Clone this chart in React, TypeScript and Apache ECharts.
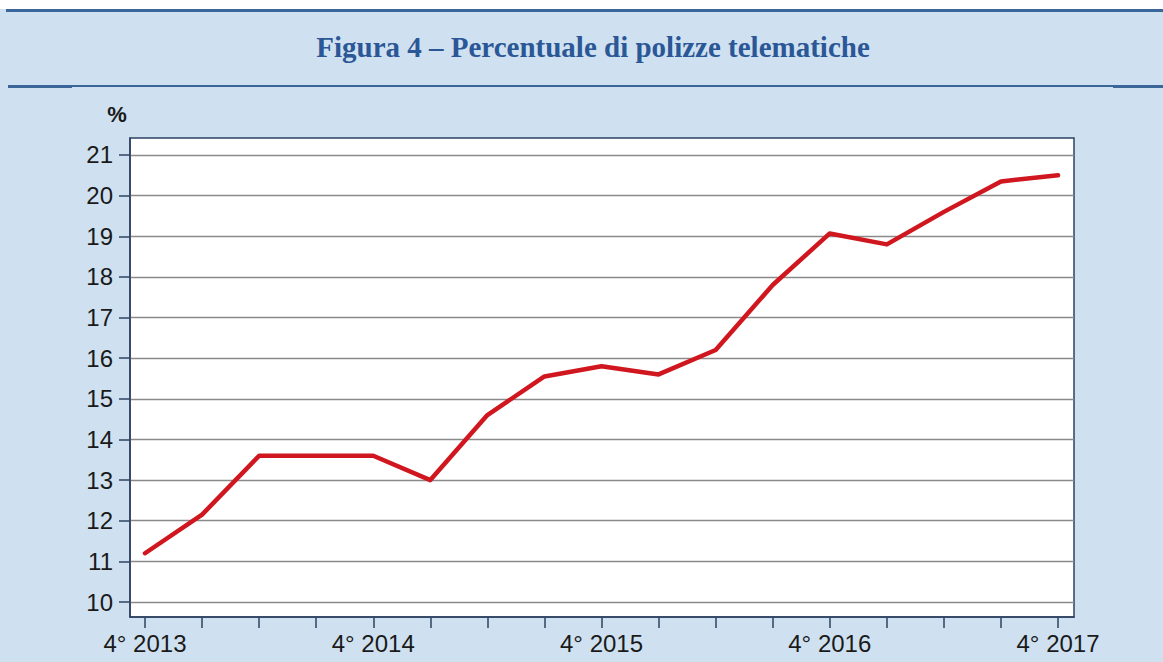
import React, { useEffect, useRef } from "react";
import * as echarts from "echarts";

const quarters = [
  "4° 2013", "1° 2014", "2° 2014", "3° 2014", "4° 2014",
  "1° 2015", "2° 2015", "3° 2015", "4° 2015",
  "1° 2016", "2° 2016", "3° 2016", "4° 2016",
  "1° 2017", "2° 2017", "3° 2017", "4° 2017",
];
const values = [11.2, 12.15, 13.6, 13.6, 13.6, 13.0, 14.6, 15.55, 15.8, 15.6, 16.2, 17.8, 19.07, 18.8, 19.6, 20.35, 20.5];
const yTicks = [10, 11, 12, 13, 14, 15, 16, 17, 18, 19, 20, 21];
const xLabelIdx = [0, 4, 8, 12, 16];
const titleText = "Figura 4 – Percentuale di polizze telematiche";

const BG = "#cfe1f0";
const RULE = "#3a6699";
const FRAME = "#2d4262";
const TXT = "#1a1a1a";

export default function App() {
  const ref = useRef<HTMLDivElement>(null);
  useEffect(() => {
    if (!ref.current) return;
    const chart = echarts.init(ref.current, null, { renderer: "svg" });
    const xIdx = quarters.map((_, i) => i);
    chart.setOption({
      animation: false,
      backgroundColor: BG,
      graphic: [
        { type: "rect", shape: { x: 0, y: 0, width: 1163, height: 9 }, style: { fill: "#ffffff" } },
        { type: "rect", shape: { x: 6, y: 9, width: 1157, height: 3 }, style: { fill: RULE } },
        { type: "rect", shape: { x: 72, y: 85, width: 1041, height: 2 }, style: { fill: RULE } },
        { type: "rect", shape: { x: 8, y: 85, width: 64, height: 3 }, style: { fill: RULE } },
        { type: "rect", shape: { x: 1113, y: 85, width: 50, height: 3 }, style: { fill: RULE } },
        {
          type: "text",
          x: 593,
          y: 47,
          style: {
            text: titleText,
            fill: "#2b5797",
            font: "bold 29px 'Liberation Serif', serif",
            textAlign: "center",
            textVerticalAlign: "middle",
          },
        },
        {
          type: "text",
          x: 117,
          y: 114,
          style: {
            text: "%",
            fill: TXT,
            font: "bold 22px 'Liberation Sans', Arial, sans-serif",
            textAlign: "center",
            textVerticalAlign: "middle",
          },
        },
      ],
      grid: {
        left: 130,
        right: 89,
        top: 138,
        bottom: 45,
        show: true,
        backgroundColor: "#ffffff",
        borderColor: FRAME,
        borderWidth: 1.5,
      },
      xAxis: {
        type: "value",
        min: -0.263,
        max: 16.28,
        axisLine: { show: true, onZero: false, lineStyle: { color: FRAME, width: 1.5 } },
        axisTick: {
          show: true,
          inside: false,
          length: 11,
          customValues: xIdx,
          lineStyle: { color: FRAME, width: 1.5 },
        },
        axisLabel: {
          customValues: xLabelIdx,
          formatter: (v: number) => quarters[Math.round(v)] ?? "",
          margin: 14,
          color: TXT,
          fontSize: 24,
          fontFamily: "'Liberation Sans', Arial, sans-serif",
        },
        splitLine: { show: false },
      },
      yAxis: {
        type: "value",
        min: 9.631,
        max: 21.418,
        axisLine: { show: true, onZero: false, lineStyle: { color: FRAME, width: 1.5 } },
        axisTick: {
          show: true,
          inside: false,
          length: 11,
          customValues: yTicks,
          lineStyle: { color: FRAME, width: 1.5 },
        },
        axisLabel: {
          customValues: yTicks,
          margin: 17,
          color: TXT,
          fontSize: 24,
          fontFamily: "'Liberation Sans', Arial, sans-serif",
        },
        splitLine: { show: true, customValues: yTicks, lineStyle: { color: "#8a8a8a", width: 1.3 } },
      },
      series: [
        {
          type: "line",
          data: values.map((v, i) => [i, v]),
          showSymbol: false,
          symbol: "none",
          lineStyle: { color: "#d0161e", width: 4.5, cap: "round", join: "round" },
        },
      ],
    });
    return () => chart.dispose();
  }, []);
  return <div ref={ref} style={{ position: "absolute", left: 0, top: 0, width: 1163, height: 662 }} />;
}
